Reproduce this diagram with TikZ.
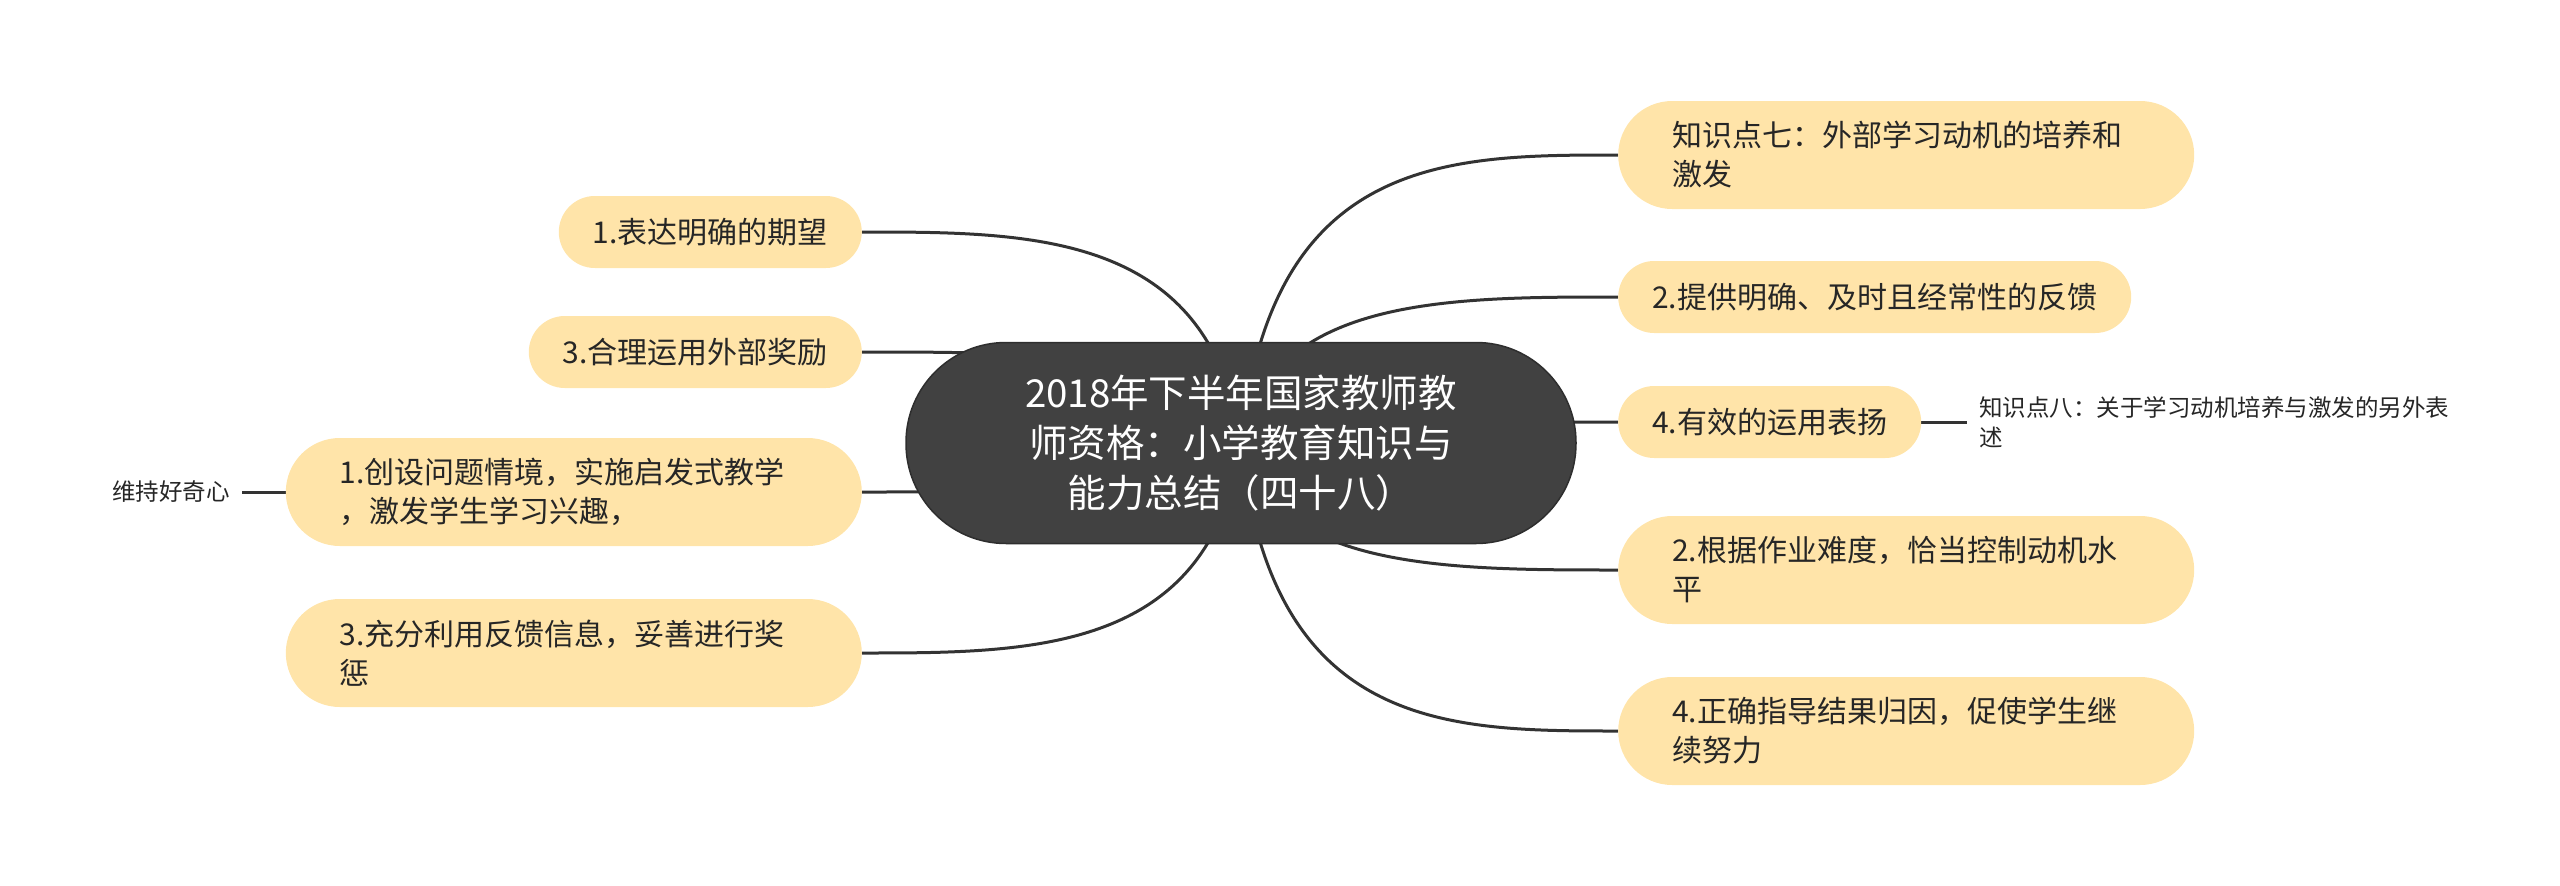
\documentclass[tikz,border=0pt]{standalone}
\usepackage{fontspec}
\setmainfont{Noto Sans CJK SC}
\usetikzlibrary{calc,backgrounds}
\definecolor{topicfill}{HTML}{FFE4A9}
\definecolor{rootfill}{HTML}{414141}
\definecolor{rootline}{HTML}{2E2E2E}
\definecolor{linecol}{HTML}{333333}
\definecolor{txtcol}{HTML}{262626}
\tikzset{
  rootnode/.style={fill=rootfill, draw=rootline, line width=1.5pt, rounded corners=100pt,
    minimum width=670pt, minimum height=201pt, inner sep=0pt, align=center, text=white,
    font=\fontsize{38.5}{50}\selectfont},
  onebox/.style={fill=topicfill, rounded corners=36pt, minimum height=72pt, inner xsep=34pt,
    inner ysep=0pt, text=txtcol, font=\fontsize{30}{39}\selectfont},
  twobox/.style={fill=topicfill, rounded corners=54pt, minimum height=108pt, inner xsep=54pt,
    inner ysep=0pt, text width=468pt, align=left, text=txtcol, font=\fontsize{30}{39}\selectfont},
  leafnode/.style={inner xsep=12pt, inner ysep=0pt, align=left, text=txtcol,
    font=\fontsize{23.5}{29.5}\selectfont},
  conn/.style={draw=linecol, line width=3pt},
}
\newcommand\mmconn[2]{\draw[conn] let \p1=(#1.center), \p2=(#2) in
  (\p1) .. controls ({\x1+0.08*(\x2-\x1)},\y2) and ({\x1+0.55*(\x2-\x1)},\y2) .. (\p2);}
\begin{document}
\begin{tikzpicture}[x=1pt,y=-1pt]
\useasboundingbox (0,0) rectangle (2560,886);
\node[rootnode] (C) at (1241,443) {2018年下半年国家教师教\\师资格：小学教育知识与\\能力总结（四十八）};
% right side
\node[twobox, anchor=west] (R1) at (1618,155) {知识点七：外部学习动机的培养和\\激发};
\node[onebox, anchor=west] (R2) at (1618,297) {2.提供明确、及时且经常性的反馈};
\node[onebox, anchor=west] (R3) at (1618,422) {4.有效的运用表扬};
\node[twobox, anchor=west] (R4) at (1618,570) {2.根据作业难度，恰当控制动机水\\平};
\node[twobox, anchor=west] (R5) at (1618,731) {4.正确指导结果归因，促使学生继\\续努力};
\node[leafnode, anchor=west] (K8) at (1967,422) {知识点八：关于学习动机培养与激发的另外表\\述};
% left side
\node[onebox, anchor=east] (L1) at (862,232) {1.表达明确的期望};
\node[onebox, anchor=east] (L2) at (862,352) {3.合理运用外部奖励};
\node[twobox, anchor=east] (L3) at (862,492) {1.创设问题情境，实施启发式教学\\，激发学生学习兴趣，};
\node[twobox, anchor=east] (L4) at (862,653) {3.充分利用反馈信息，妥善进行奖\\惩};
\node[leafnode, anchor=east] (K1) at (242,492) {维持好奇心};
\begin{scope}[on background layer]
  \mmconn{C}{R1.west}
  \mmconn{C}{R2.west}
  \mmconn{C}{R3.west}
  \mmconn{C}{R4.west}
  \mmconn{C}{R5.west}
  \mmconn{C}{L1.east}
  \mmconn{C}{L2.east}
  \mmconn{C}{L3.east}
  \mmconn{C}{L4.east}
  \draw[conn] (R3.east) -- (K8.west);
  \draw[conn] (L3.west) -- (K1.east);
\end{scope}
\end{tikzpicture}
\end{document}
